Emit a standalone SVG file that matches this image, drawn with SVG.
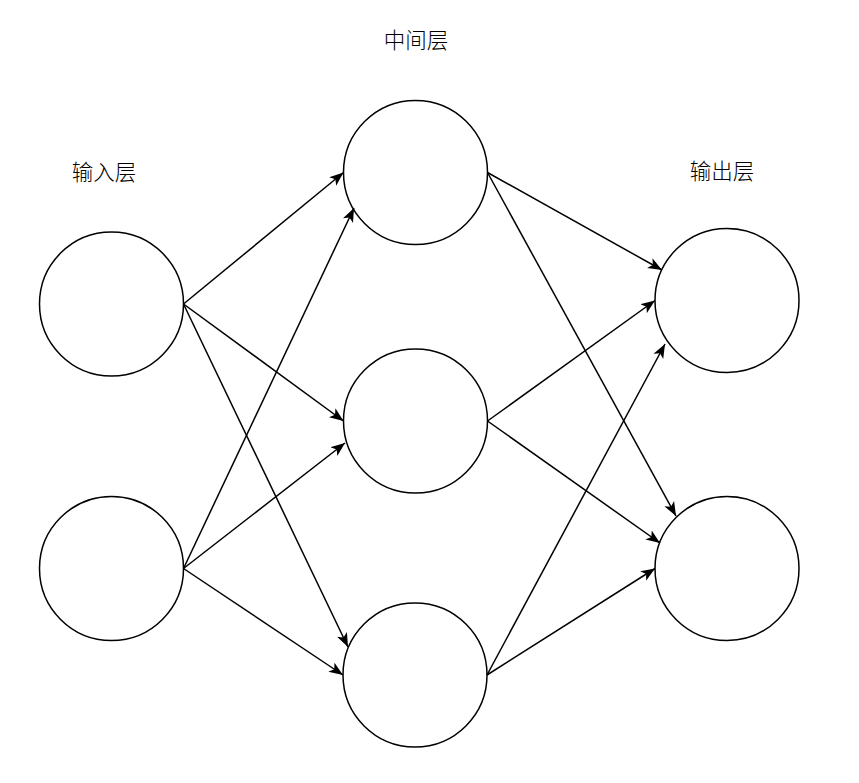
<svg xmlns="http://www.w3.org/2000/svg" width="859" height="783" viewBox="0 0 859 783">
<style>
.node circle{fill:#ffffff;stroke:#000000;stroke-width:1.5}
.edges line{stroke:#000000;stroke-width:1.5;marker-end:url(#arrow)}
.lbl{font-family:"Noto Sans CJK SC","Noto Sans",sans-serif;font-size:21.5px;font-weight:300;fill:#000000;text-anchor:middle}
</style>
<defs>
<marker id="arrow" markerUnits="userSpaceOnUse" markerWidth="16" markerHeight="12" refX="14" refY="5.5" orient="auto" viewBox="0 0 16 11">
<path d="M0,0 L14,5.5 L0,11 L3.5,5.5 Z" fill="#000000"/>
</marker>
</defs>
<rect width="859" height="783" fill="#ffffff"/>
<g id="label-input"><text class="lbl" x="104" y="180">输入层</text></g>
<g id="label-middle"><text class="lbl" x="416" y="48">中间层</text></g>
<g id="label-output"><text class="lbl" x="722" y="179">输出层</text></g>
<g id="in1" class="node"><circle cx="111.5" cy="304" r="72"/></g>
<g id="in2" class="node"><circle cx="111.5" cy="568.5" r="72"/></g>
<g id="mid1" class="node"><circle cx="415.5" cy="172.5" r="72"/></g>
<g id="mid2" class="node"><circle cx="415.5" cy="421" r="72"/></g>
<g id="mid3" class="node"><circle cx="415" cy="675" r="72"/></g>
<g id="out1" class="node"><circle cx="727" cy="300.5" r="72"/></g>
<g id="out2" class="node"><circle cx="727" cy="568.5" r="72"/></g>
<g id="connectors" class="edges">
<line x1="183.5" y1="304" x2="343.5" y2="172.5"/>
<line x1="183.5" y1="304" x2="343.5" y2="421"/>
<line x1="183.5" y1="304" x2="348" y2="647"/>
<line x1="183.5" y1="568.5" x2="354" y2="208"/>
<line x1="183.5" y1="568.5" x2="345" y2="443"/>
<line x1="183.5" y1="568.5" x2="343" y2="675"/>
<line x1="487.5" y1="172.5" x2="662" y2="270"/>
<line x1="487.5" y1="172.5" x2="676" y2="516"/>
<line x1="487.5" y1="421" x2="655" y2="300.5"/>
<line x1="487.5" y1="421" x2="660" y2="543"/>
<line x1="487" y1="675" x2="665" y2="344"/>
<line x1="487" y1="675" x2="655" y2="568.5"/>
</g>
</svg>
